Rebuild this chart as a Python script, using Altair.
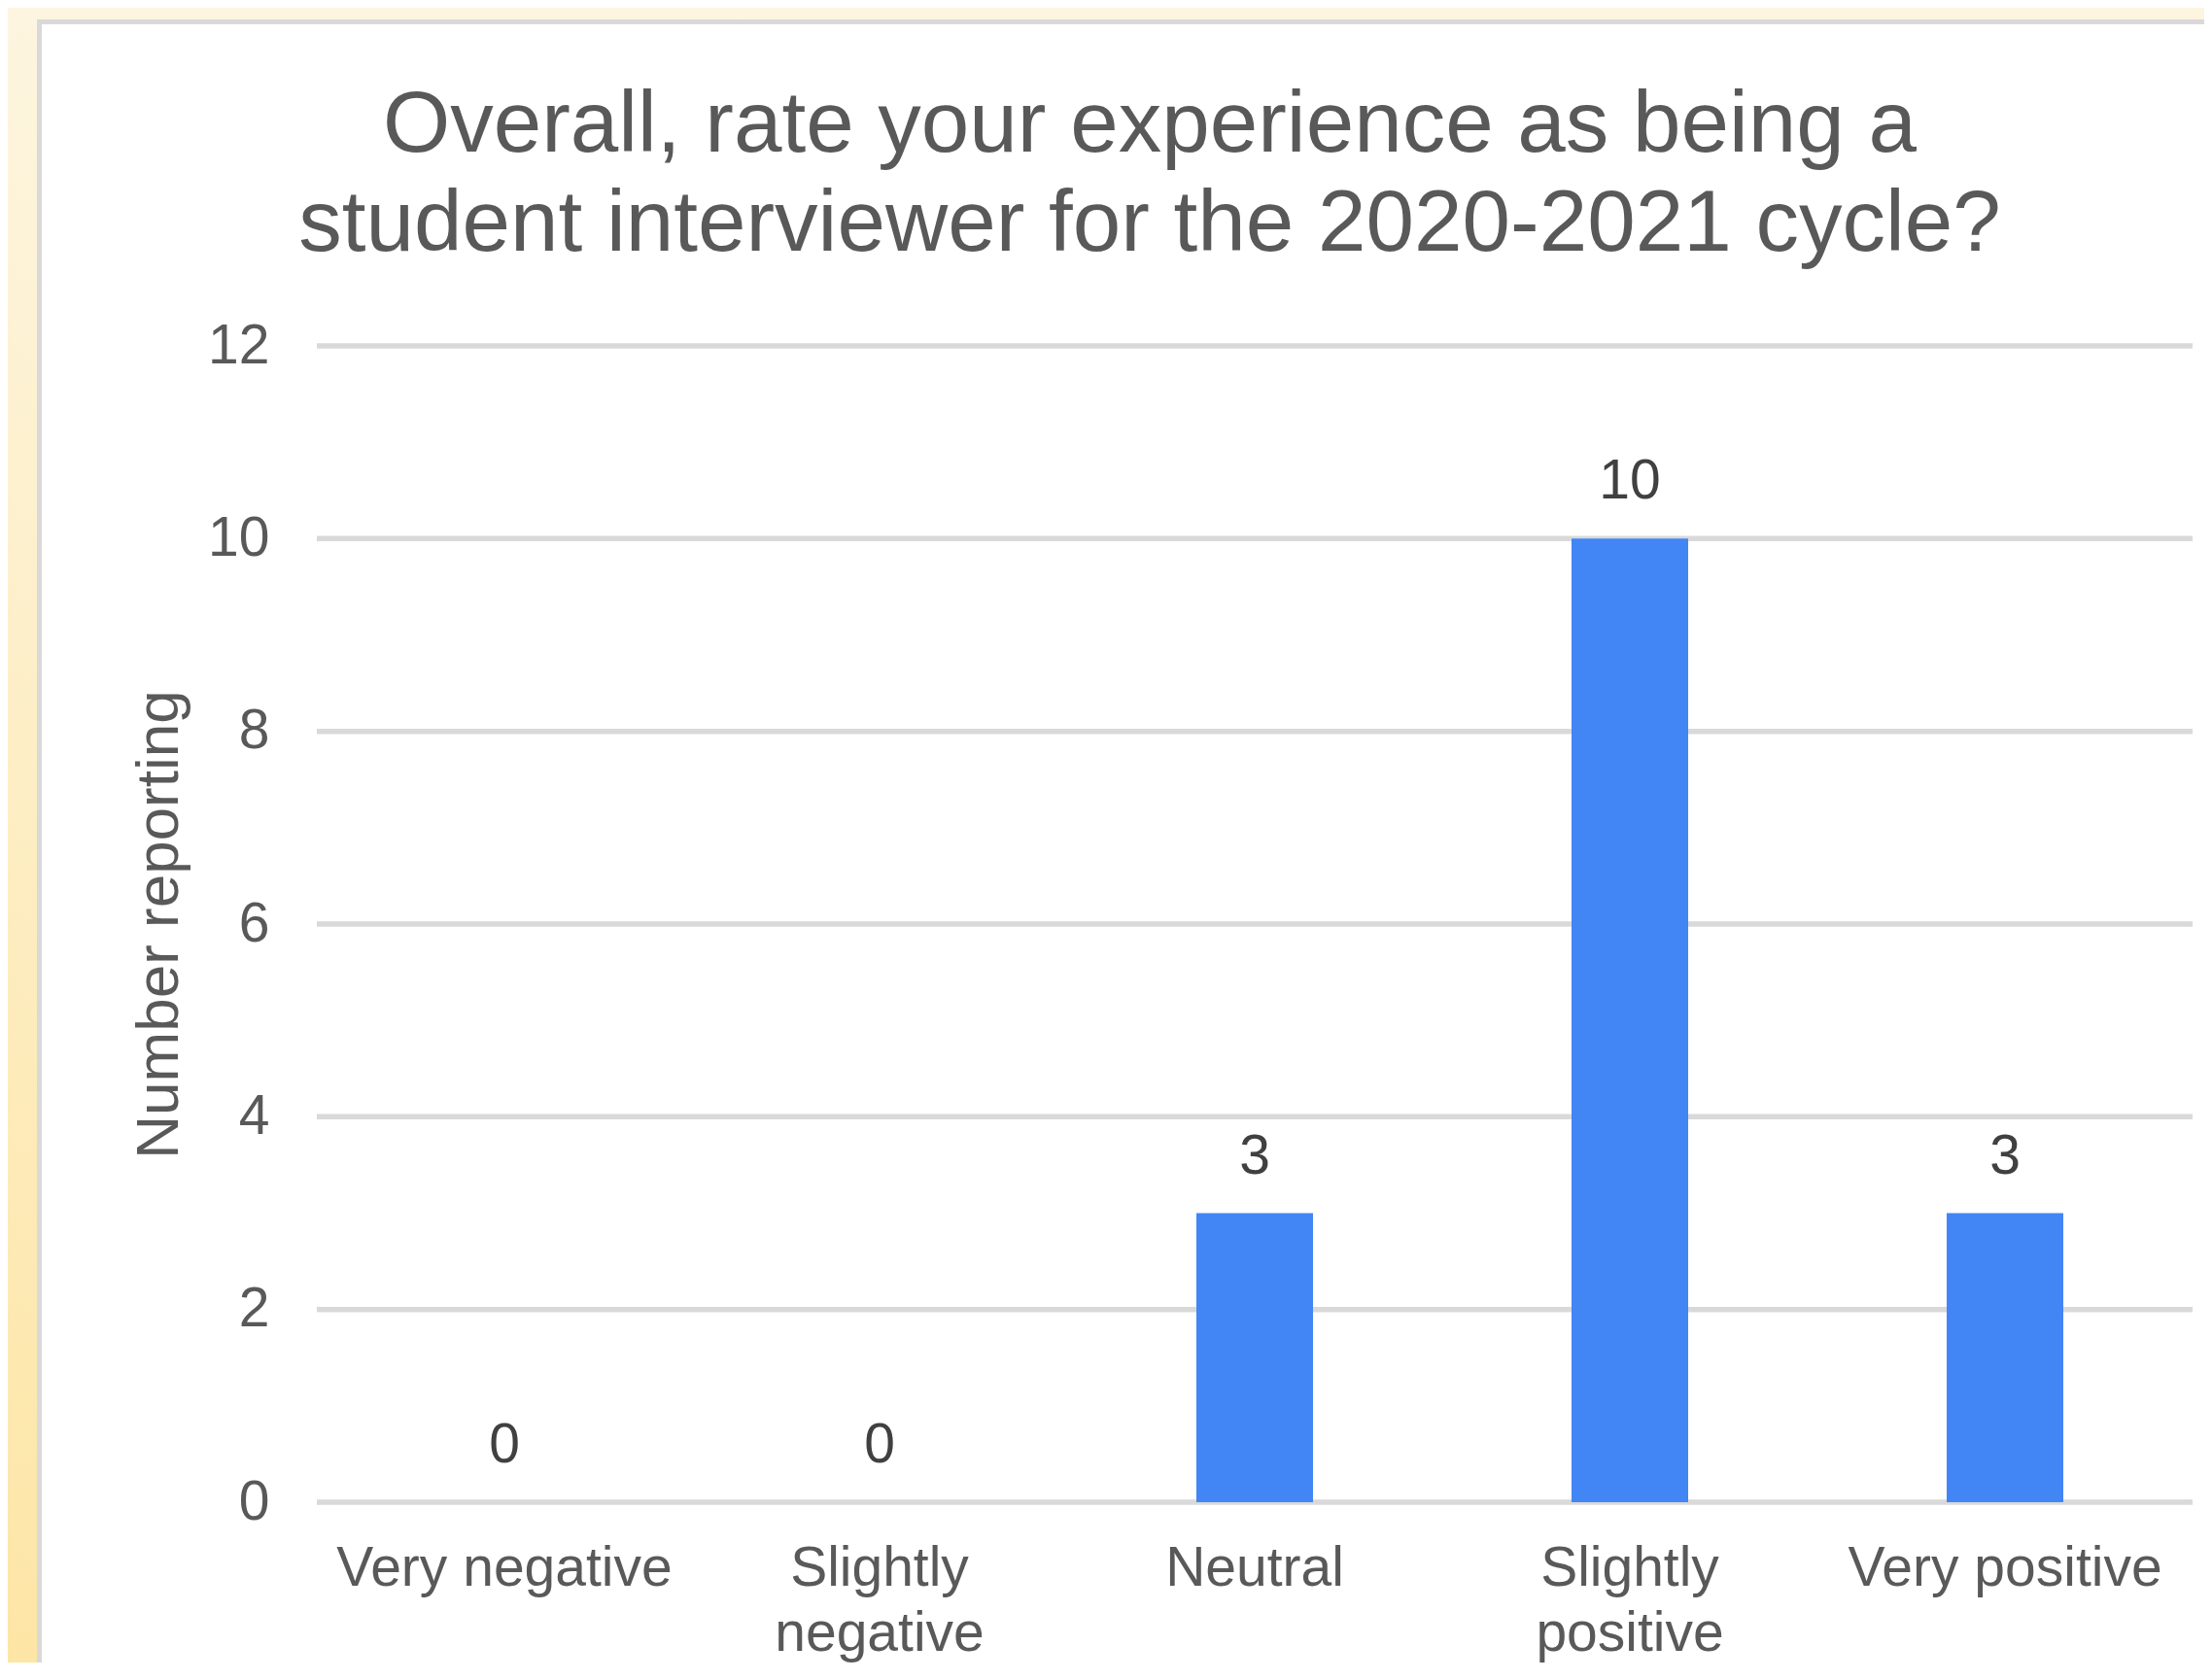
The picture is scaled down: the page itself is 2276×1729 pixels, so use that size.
import altair as alt
import pandas as pd

# ---- data ----
categories = ["Very negative", "Slightly negative", "Neutral", "Slightly positive", "Very positive"]
counts = [0, 0, 3, 10, 3]
y_ticks = [0, 2, 4, 6, 8, 10, 12]
title_lines = ["Overall, rate your experience as being a",
               "student interviewer for the 2020-2021 cycle?"]
y_title = "Number reporting"

df = pd.DataFrame({"category": categories, "count": counts})
grid_df = pd.DataFrame({"v": y_ticks})

W, H = 1930, 1190
FONT = "Liberation Sans"
TXT = "#595959"
GRID = "#d9d9d9"

one_row = alt.Data(values=[{"a": 1}])

# page background (cream -> yellow gradient)
bg = alt.Chart(one_row).mark_rect(
    color=alt.Gradient(
        gradient="linear",
        stops=[alt.GradientStop(color="#fdf5e0", offset=0),
               alt.GradientStop(color="#fde5a4", offset=1)],
        x1=0, x2=0, y1=0, y2=1,
    )
).encode(x=alt.value(-330), x2=alt.value(W + 40), y=alt.value(-360), y2=alt.value(H + 200))

# white chart panel with grey border
panel = alt.Chart(one_row).mark_rect(fill="white", stroke=GRID, strokeWidth=5).encode(
    x=alt.value(-285.5), x2=alt.value(W + 200), y=alt.value(-333.5), y2=alt.value(H + 400)
)

y_axis = alt.Axis(
    values=y_ticks, title=y_title, grid=False, domain=False, ticks=False,
    labelPadding=49, labelFontSize=57, labelColor=TXT, labelFont=FONT,
    titleFont=FONT, titleFontSize=62, titleColor=TXT, titleFontWeight="normal",
    titleX=-144, titleY=H / 2, titleAngle=270, titleBaseline="alphabetic",
    titleAlign="center", zindex=1,
)
x_axis = alt.Axis(
    title=None, labelAngle=0, domain=False, ticks=False, grid=False,
    labelPadding=40, labelFontSize=57, labelColor=TXT, labelFont=FONT,
    labelLineHeight=67, labelLimit=0,
    labelExpr="indexof(datum.label, 'Slightly') == 0 ? split(datum.label, ' ') : datum.label",
    zindex=1,
)
y_scale = alt.Scale(domain=[0, 12])

grid = alt.Chart(grid_df).mark_rule(color=GRID, strokeWidth=5.5).encode(
    y=alt.Y("v:Q", scale=y_scale, axis=y_axis)
)

base = alt.Chart(df).encode(
    x=alt.X("category:N", sort=categories,
            scale=alt.Scale(paddingInner=0, paddingOuter=0), axis=x_axis),
    y=alt.Y("count:Q", scale=y_scale, axis=y_axis),
)
bars = base.mark_bar(size=120, color="#4285f4")
labels = base.mark_text(dy=-41, baseline="alphabetic", fontSize=57,
                        color="#404040", font=FONT).encode(text="count:Q")

chart = alt.layer(bg, panel, grid, bars, labels).properties(
    width=W, height=H,
    autosize=alt.AutoSizeParams(type="none"),
    padding={"left": 318, "top": 348, "right": 12, "bottom": 165},
    background="#fdf5e0",
    title=alt.TitleParams(
        text=title_lines, fontSize=89, lineHeight=102, font=FONT, color=TXT,
        fontWeight="normal", anchor="middle", frame="group", dx=-108,
        baseline="top", offset=0, dy=281, zindex=1,
    ),
).configure_view(stroke=None)

chart.save("out.html", embed_options={"renderer": "svg", "actions": False})
